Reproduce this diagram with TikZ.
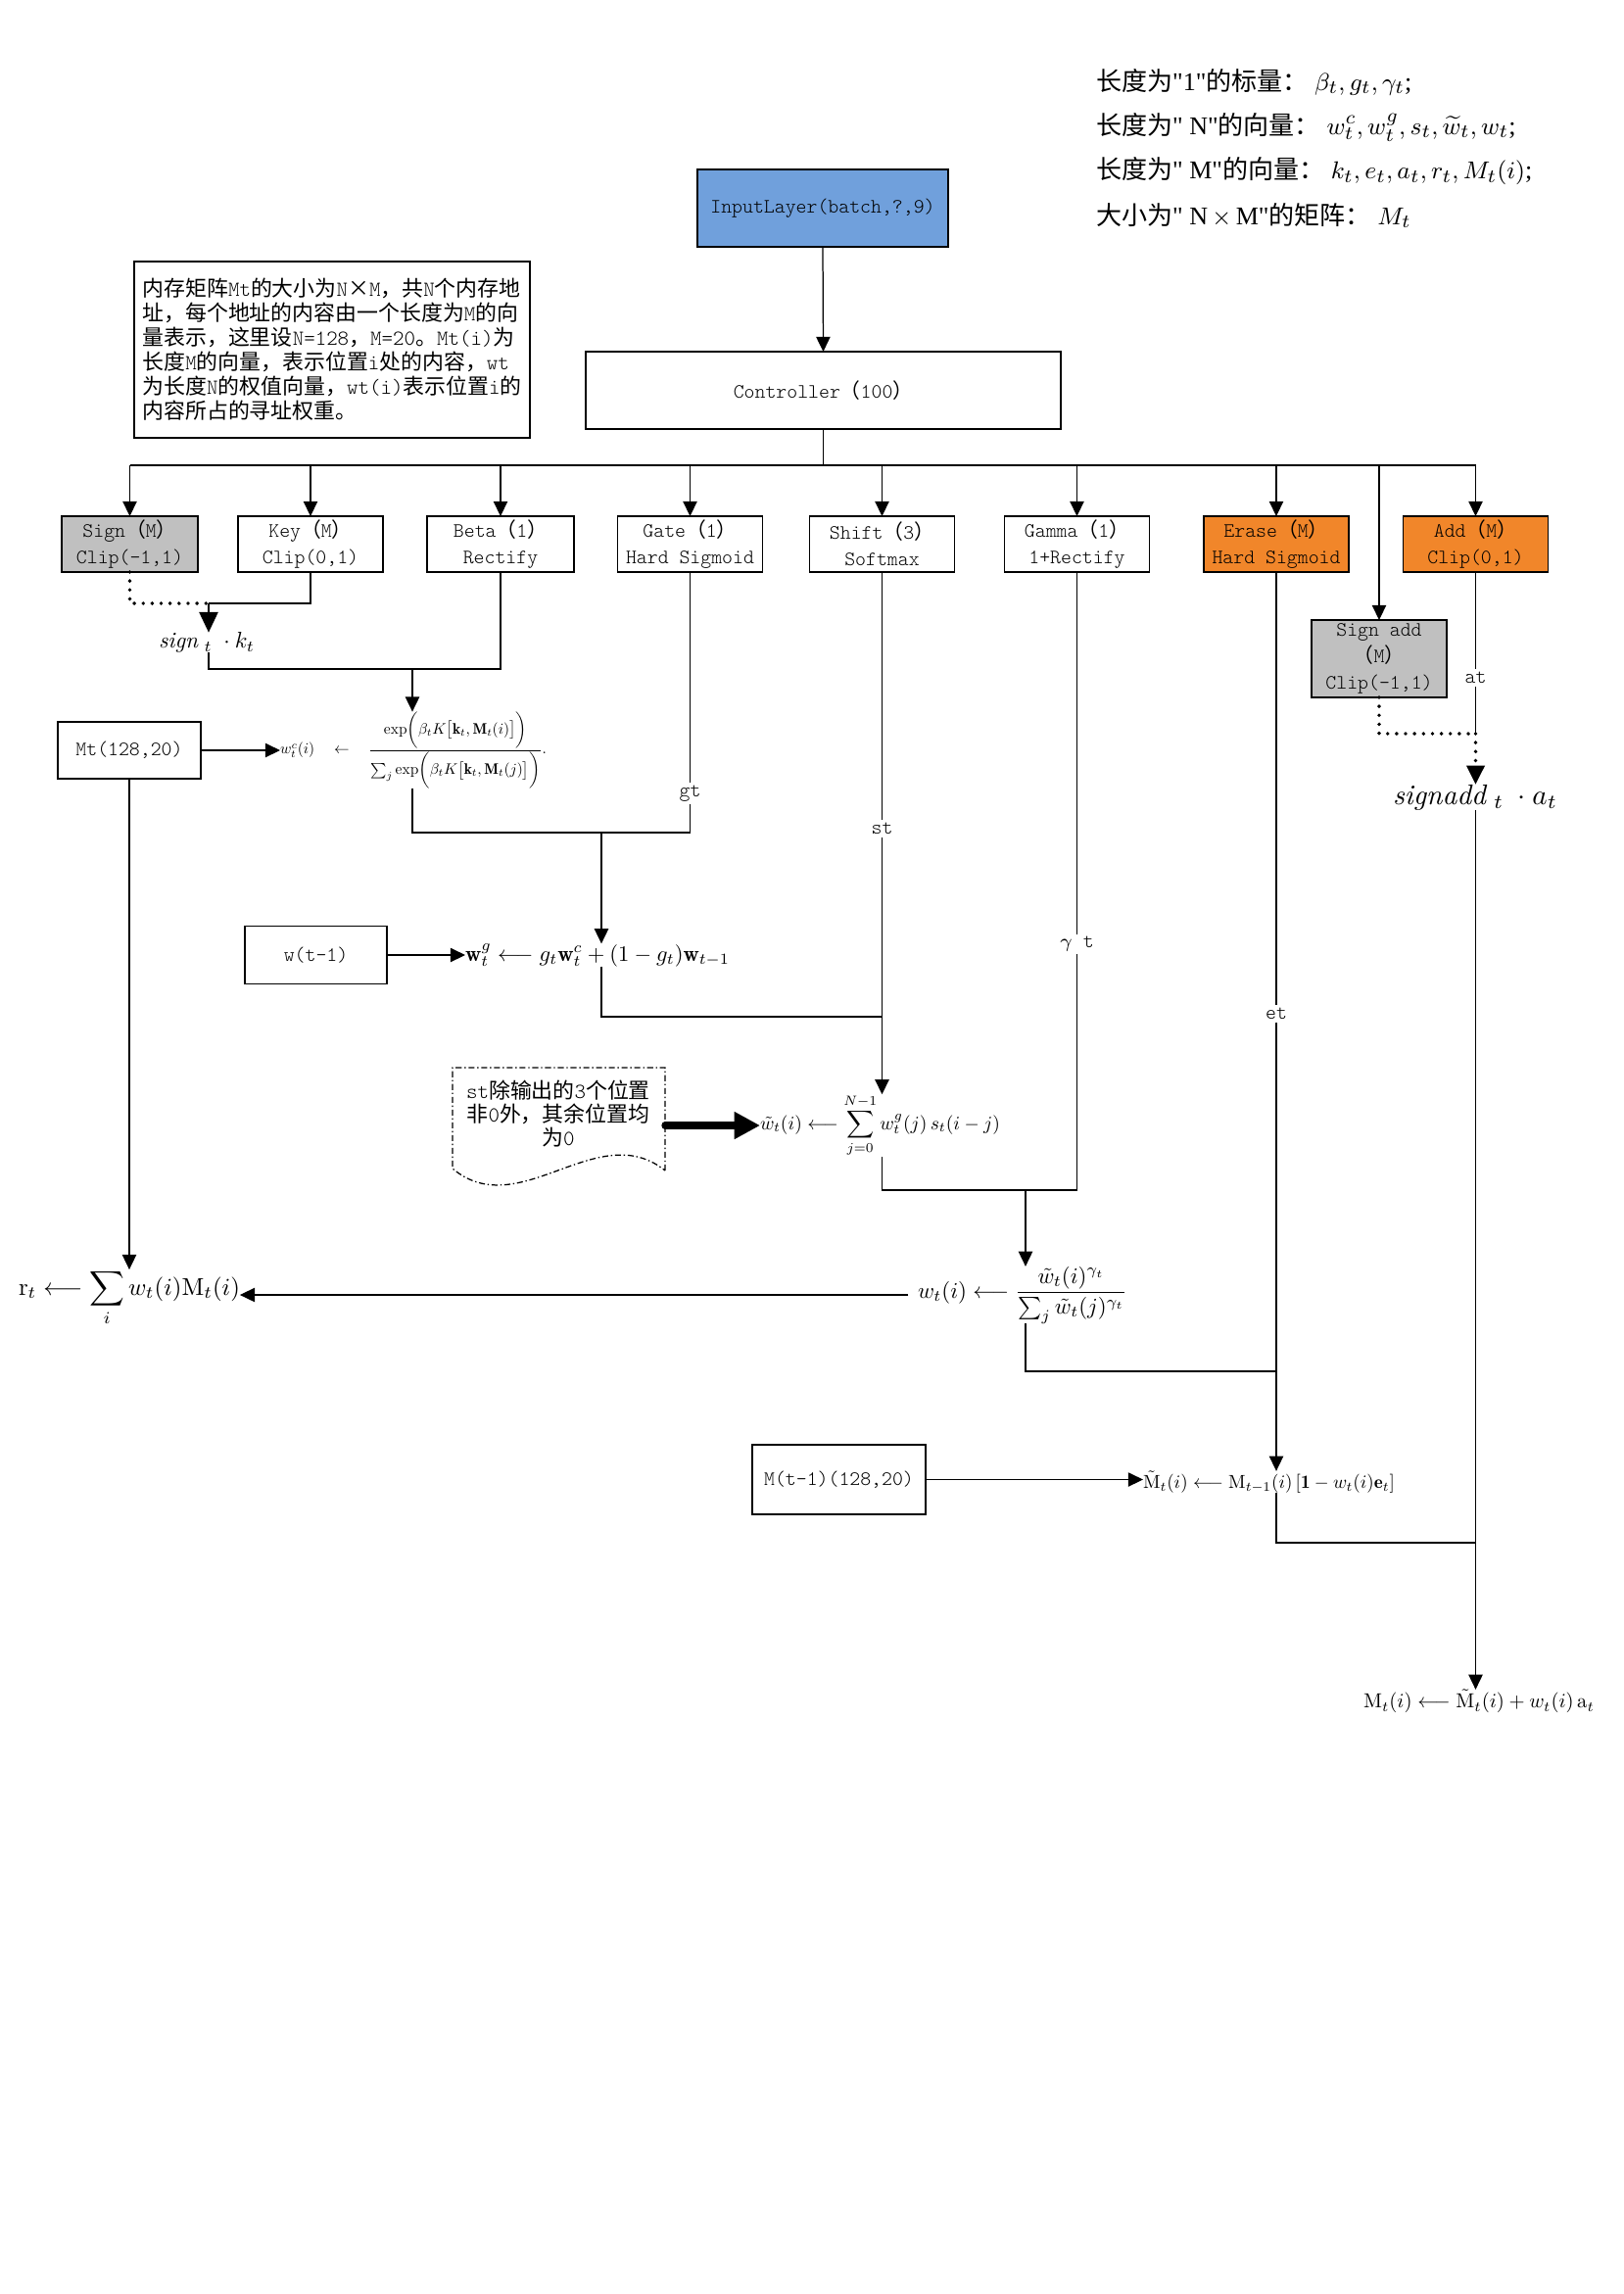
\documentclass[tikz,border=0pt]{standalone}
\usepackage{fontspec}
\usepackage{amsmath,amssymb}
\usepackage{graphicx}
\usetikzlibrary{arrows.meta}
\newfontfamily\cjk{Noto Sans CJK SC}
\newfontfamily\boxfont{lmmonolt10-regular}[Extension=.otf]
\newfontfamily\tnr{Liberation Serif}[Ligatures=TeXOff]
\newcommand\C[1]{{\cjk #1}}
\newdimen\pxd \pxd=0.36061pt
\def\px{0.36061pt}
\newcommand\fmlbox[2]{\resizebox{#1\pxd}{!}{#2}}
\definecolor{boxgray}{RGB}{192,192,192}
\definecolor{boxorange}{RGB}{241,134,42}
\definecolor{boxblue}{RGB}{112,160,220}
\begin{document}
\begin{tikzpicture}[x=0.012674cm,y=-0.012674cm,
  every node/.style={inner sep=0pt,outer sep=0pt},
  ln/.style={line width=0.45pt},
  box/.style={draw,line width=0.45pt,align=center,
    font=\fontsize{7.5pt}{9.7pt}\selectfont\boxfont,
    minimum width=148*\px,minimum height=57*\px},
  arr/.style={ln,-{Triangle[width=5.2pt,length=5.5pt]}},
  bigarr/.style={ln,-{Triangle[width=7pt,length=7.5pt]}},
  dotln/.style={line width=1.4pt,dash pattern=on 0pt off 3.3pt,line cap=round},
  lab/.style={fill=white,inner sep=1pt,font=\fontsize{7.5pt}{9pt}\selectfont\boxfont},
  cjktext/.style={font=\fontsize{7.9pt}{9pt}\selectfont\boxfont},
  legend/.style={anchor=west,font=\fontsize{9.4pt}{11pt}\selectfont\tnr},
]
\path[fill=white] (0,0) rectangle (1657,2342);
\useasboundingbox (0,0) rectangle (1657,2342);

% legend
\node[legend] (lg1) at (1119,84) {\C{长度为}"1"\C{的标量：}\ $\beta_t, g_t, \gamma_t$;};
\node[legend] (lg2) at (1119,130) {\C{长度为}" N"\C{的向量：}\ $w_t^c, w_t^g, s_t, \widetilde{w}_t, w_t$;};
\node[legend] (lg3) at (1119,175) {\C{长度为}" M"\C{的向量：}\ $k_t, e_t, a_t, r_t, M_t(i)$;};
\node[legend] (lg4) at (1119,220) {\C{大小为}" N\,$\times$\,M"\C{的矩阵：}\ $M_t$};

% description
\node[draw,ln,cjktext,align=left,minimum width=404*\px,minimum height=180*\px] (desc) at (339,357) {%
\C{内存矩阵}Mt\C{的大小为}N\C{×}M\C{，共}N\C{个内存地}\\
\C{址，每个地址的内容由一个长度为}M\C{的向}\\
\C{量表示，这里设}N=128\C{，}M=20\C{。}Mt(i)\C{为}\\
\C{长度}M\C{的向量，表示位置}i\C{处的内容，}wt\\
\C{为长度}N\C{的权值向量，}wt(i)\C{表示位置}i\C{的}\\
\C{内容所占的寻址权重。}};

% boxes
\node[box,fill=boxblue,minimum width=256*\px,minimum height=79*\px] (inp) at (840,212.5) {InputLayer(batch,?,9)};
\node[box,minimum width=485*\px,minimum height=79*\px] (ctrl) at (840.5,398.5) {Controller\C{（}100\C{）}};
\coordinate (bus) at (840,475);
\node[box,fill=boxgray,minimum width=139*\px] (sign) at (132.5,555.5) {Sign\C{（}M\C{）}\\Clip(-1,1)};
\node[box] (key) at (317,555.5) {Key\C{（}M\C{）}\\Clip(0,1)};
\node[box,minimum width=150*\px] (beta) at (511,555.5) {Beta\C{（}1\C{）}\\Rectify};
\node[box] (gate) at (704.5,555.5) {Gate\C{（}1\C{）}\\Hard Sigmoid};
\node[box] (shift) at (900.5,555.5) {Shift\C{（}3\C{）}\\Softmax};
\node[box] (gamma) at (1099.5,555.5) {Gamma\C{（}1\C{）}\\1+Rectify};
\node[box,fill=boxorange] (erase) at (1303,555.5) {Erase\C{（}M\C{）}\\Hard Sigmoid};
\node[box,fill=boxorange] (add) at (1506.5,555.5) {Add\C{（}M\C{）}\\Clip(0,1)};
\node[box,fill=boxgray,minimum width=138*\px,minimum height=79*\px] (signadd) at (1408,672.5) {Sign add\\\C{（}M\C{）}\\Clip(-1,1)};
\node[box,minimum width=146*\px,minimum height=58*\px] (mt) at (132,766) {Mt(128,20)};
\node[box,minimum width=145*\px,minimum height=59*\px] (wt1) at (322.5,975) {w(t-1)};
\node[box,minimum width=177*\px,minimum height=71*\px] (mt1) at (856.5,1510.5) {M(t-1)(128,20)};

% note
\node[minimum width=217*\px,minimum height=118*\px] (notebox) at (570.5,1149) {};
\draw[ln,dash pattern=on 2.2pt off 1pt on 0.5pt off 1pt] (679,1195) -- (679,1090) -- (462,1090) -- (462,1193) .. controls (530,1250) and (610,1140) .. (679,1195);
\node[cjktext,align=center,font=\fontsize{7.9pt}{8.7pt}\selectfont\boxfont] (notetxt) at (570,1137) {st\C{除输出的}3\C{个位置}\\\C{非}0\C{外，其余位置均}\\\C{为}0};

% formulas
\node[anchor=west] (fc) at (286,766) {\fmlbox{272}{$w_t^c(i)\quad\leftarrow\quad\dfrac{\exp\biggl(\beta_t K\bigl[\mathbf{k}_t,\mathbf{M}_t(i)\bigr]\biggr)}{\sum_j\exp\biggl(\beta_t K\bigl[\mathbf{k}_t,\mathbf{M}_t(j)\bigr]\biggr)}.$}};
\node[anchor=west] (fg) at (475,975) {\fmlbox{270}{$\mathbf{w}_t^g \longleftarrow g_t\mathbf{w}_t^c+(1-g_t)\mathbf{w}_{t-1}$}};
\node[anchor=west] (fs) at (776,1149) {\fmlbox{245}{$\tilde{w}_t(i)\longleftarrow\displaystyle\sum_{j=0}^{N-1} w_t^g(j)\,s_t(i-j)$}};
\node[anchor=west] (fwn) at (937,1322) {\fmlbox{214}{$w_t(i)\longleftarrow\dfrac{\tilde{w}_t(i)^{\gamma_t}}{\sum_j\tilde{w}_t(j)^{\gamma_t}}$}};
\node[anchor=west] (fr) at (19,1325) {\fmlbox{226}{$\mathrm{r}_t\longleftarrow\displaystyle\sum_i w_t(i)\mathrm{M}_t(i)$}};
\node[anchor=west] (fm) at (1167,1513) {\fmlbox{257}{$\tilde{\mathrm{M}}_t(i)\longleftarrow\mathrm{M}_{t-1}(i)\,[\mathbf{1}-w_t(i)\mathbf{e}_t]$}};
\node[anchor=west] (fmf) at (1392,1737) {\fmlbox{236}{$\mathrm{M}_t(i)\longleftarrow\tilde{\mathrm{M}}_t(i)+w_t(i)\,\mathrm{a}_t$}};
\node (sk) at (211,656) {\fmlbox{98}{$\mathit{sign}\;{}_t\;\cdot k_t$}};
\node (sa) at (1506,814) {\fmlbox{168}{$\mathit{signadd}\;{}_t\;\cdot a_t$}};

% junctions
\coordinate (jA) at (213,616);
\coordinate (jB) at (213,683);
\coordinate (jC) at (421,683);
\coordinate (jD) at (421,850);
\coordinate (jE) at (614,850);
\coordinate (jF) at (614,1038);
\coordinate (jG) at (900.5,1215);
\coordinate (jH) at (1047,1215);
\coordinate (jI) at (1047,1400);
\coordinate (jJ) at (1506.5,1575);
\coordinate (jL) at (1506.5,749);

% connectors
\draw[arr] (inp.south) -- (ctrl.north);
\draw[ln] (ctrl.south) -- (ctrl.south |- bus);
\draw[ln] (sign.north |- bus) -- (add.north |- bus);
\foreach \n in {sign,key,beta,gate,shift,gamma,erase,add,signadd}
  \draw[arr] (\n.north |- bus) -- (\n.north);
\draw[dotln] (sign.south) |- (jA);
\draw[ln] (key.south) |- (jA);
\draw[bigarr] (jA) -- (jA |- sk.north);
\draw[ln] (jA |- sk.south) -- (jB) -| (beta.south);
\draw[arr] (jC) -- (jC |- fc.north);
\draw[ln] (jC |- fc.south) -- (jD) -| (gate.south);
\draw[arr] (jE) -- (jE |- fg.north);
\draw[ln] (jE |- fg.south) -- (jF) -| (shift.south);
\draw[arr] (shift.south) -- (shift.south |- fs.north);
\draw[ln] (shift.south |- fs.south) -- (jG) -| (gamma.south);
\draw[arr] (jH) -- (jH |- fwn.north);
\draw[ln] (jH |- fwn.south) -- (jI) -| (erase.south);
\draw[arr] (erase.south) -- (erase.south |- fm.north);
\draw[ln] (erase.south |- fm.south) |- (jJ);
\draw[ln] (add.south) -- (jL);
\draw[dotln] (signadd.south) |- (jL);
\draw[dotln,-{Triangle[width=6.5pt,length=7pt]}] (jL) -- (jL |- sa.north);
\draw[arr] (jL |- sa.south) -- (jL |- fmf.north);
\draw[arr] (mt.east) -- (mt.east -| fc.west);
\draw[arr] (mt.south) -- (mt.south |- fr.north);
\draw[arr,shorten <=3.5pt] (fwn.west) -- (fwn.west -| fr.east);
\draw[arr] (wt1.east) -- (wt1.east -| fg.west);
\draw[arr] (mt1.east) -- (mt1.east -| fm.west);
\draw[line width=2.6pt,line cap=round,-{Triangle[width=9.5pt,length=9.5pt]}] (notebox.east) -- (notebox.east -| fs.west);

% line labels
\node[lab] (lgt) at (704.5,810) {gt};
\node[lab] (lst) at (900.5,846) {st};
\node[lab] (lgam) at (1099.5,964) {$\gamma$ t};
\node[lab] (let) at (1303,1035) {et};
\node[lab] (lat) at (1506.5,692) {at};
\end{tikzpicture}
\end{document}
